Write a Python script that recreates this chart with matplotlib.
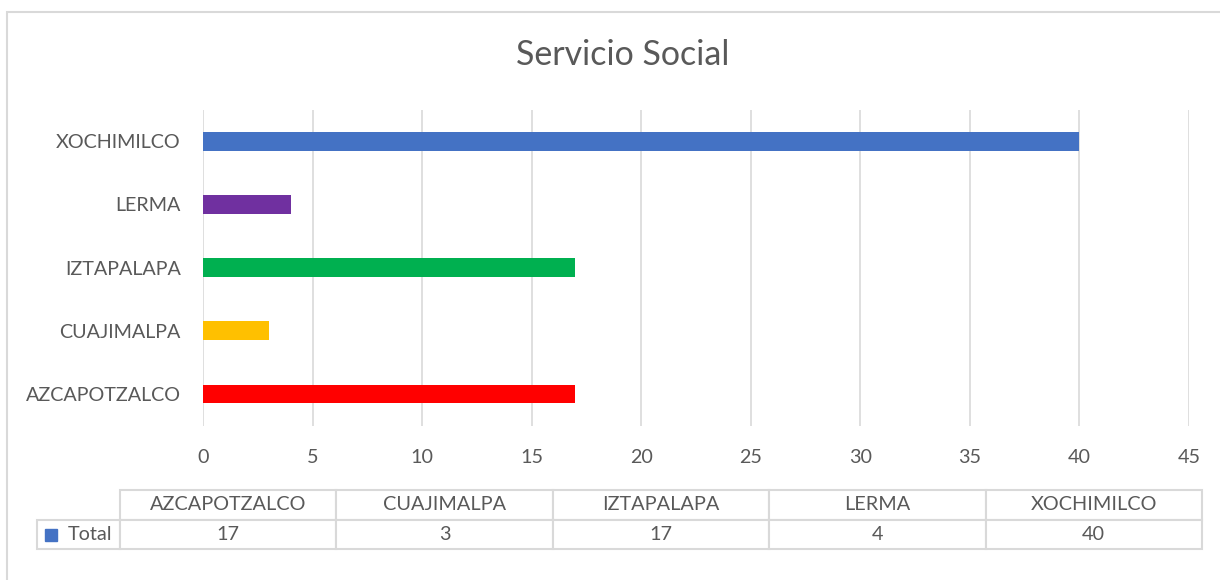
import matplotlib.pyplot as plt
from matplotlib.patches import Rectangle

# -------------------------------
# Data
# -------------------------------
campus = ["AZCAPOTZALCO", "CUAJIMALPA", "IZTAPALAPA", "LERMA", "XOCHIMILCO"]
total = [17, 3, 17, 4, 40]
bar_colors = ["#FF0000", "#FFC000", "#00B050", "#7030A0", "#4472C4"]
x_ticks = [0, 5, 10, 15, 20, 25, 30, 35, 40, 45]

TXT = "#595959"
GRID = "#D9D9D9"
plt.rcParams["font.family"] = ["Lato", "DejaVu Sans"]

W, H = 1220, 580
fig = plt.figure(figsize=(W / 100, H / 100), dpi=100)

# chart border (runs off the right and bottom edge)
fig.patches.append(Rectangle((6.5 / W, 0 - 0.05), 1.2, 1 - 11.5 / H + 0.05,
                             transform=fig.transFigure, fill=False,
                             edgecolor=GRID, linewidth=1.5))

# -------------------------------
# Bar chart
# -------------------------------
left, right, top, bottom = 203, 1189, 109.5, 425.6
ax = fig.add_axes([left / W, 1 - bottom / H, (right - left) / W, (bottom - top) / H])

ax.barh(range(len(campus)), total, height=0.3, color=bar_colors, zorder=3)
ax.set_xlim(0, 45)
ax.set_ylim(-0.5, len(campus) - 0.5)
ax.set_xticks(x_ticks)
ax.set_yticks(range(len(campus)))
ax.set_yticklabels(campus)
ax.tick_params(axis="both", length=0, labelsize=14.2, colors=TXT)
ax.tick_params(axis="x", pad=17)
ax.tick_params(axis="y", pad=16)
ax.grid(axis="x", color=GRID, linewidth=1.2, zorder=0)
for s in ax.spines.values():
    s.set_visible(False)

fig.text(623 / W, 1 - 55 / H, "Servicio Social", ha="center", va="center",
         fontsize=24.5, color=TXT)

# -------------------------------
# Data table
# -------------------------------
ah = bottom - top
aw = right - left
tx0, tx1 = 37, 1202
ty0, ty1 = 490, 549
tbl = ax.table(cellText=[["Total"] + [str(v) for v in total]],
               colLabels=[""] + campus,
               colWidths=[83] + [216.5] * 5,
               cellLoc="center",
               bbox=[(tx0 - left) / aw, (bottom - ty1) / ah,
                     (tx1 - tx0) / aw, (ty1 - ty0) / ah])
tbl.auto_set_font_size(False)
for (r, c), cell in tbl.get_celld().items():
    cell.set_edgecolor(GRID)
    cell.set_linewidth(1.5)
    cell.get_text().set_fontsize(14.3)
    cell.get_text().set_color(TXT)
    if r == 0 and c == 0:
        cell.set_linewidth(0)
    if r == 1 and c == 0:
        cell._loc = "right"
        cell.get_text().set_horizontalalignment("right")
        cell.PAD = 0.09

# legend key in the row label
ax.plot([(51 - left) / aw], [(bottom - 535) / ah], marker="s", markersize=9,
        color="#4472C4", transform=ax.transAxes, clip_on=False)

fig.savefig("out.png", dpi=100)
